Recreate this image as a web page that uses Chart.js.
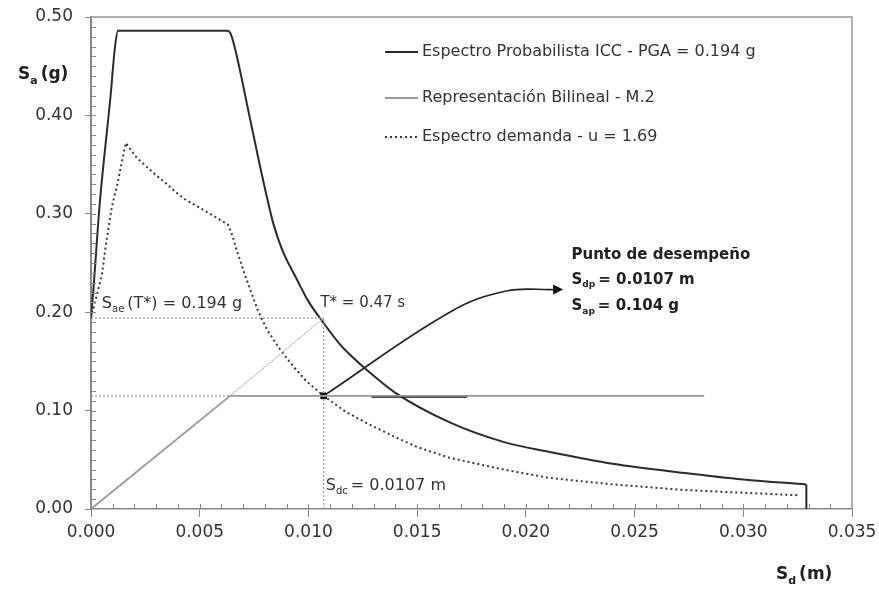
<!DOCTYPE html>
<html>
<head>
<meta charset="utf-8">
<script src="https://cdn.jsdelivr.net/npm/chart.js@4.4.0/dist/chart.umd.min.js"></script>
<style>
  html, body { margin: 0; padding: 0; background: #fff; }
  #wrap { width: 879px; height: 591px; }
</style>
</head>
<body>
<div id="wrap"><canvas id="chart" width="879" height="591"></canvas></div>
<script>
// Espectro Probabilista ICC
const iccSd = [0, 0.0001, 0.0004, 0.0009, 0.0011, 0.00124, 0.00625, 0.0064, 0.0066, 0.0073, 0.0077, 0.0081, 0.0084, 0.0088, 0.0095, 0.0100, 0.0106, 0.0115, 0.0120, 0.0127, 0.0140, 0.0165, 0.0190, 0.0211, 0.0240, 0.0273, 0.0300, 0.0329, 0.0329];
const iccSa = [0.194, 0.22, 0.31, 0.42, 0.469, 0.486, 0.486, 0.484, 0.470, 0.398, 0.356, 0.316, 0.289, 0.263, 0.232, 0.211, 0.192, 0.166, 0.155, 0.141, 0.118, 0.088, 0.068, 0.058, 0.046, 0.0366, 0.030, 0.025, 0];

// Espectro demanda
const demSd = [0, 0.0005, 0.0007, 0.00096, 0.0012, 0.0016, 0.0021, 0.0025, 0.0030, 0.0034, 0.0039, 0.0043, 0.0050, 0.0057, 0.0063, 0.0065, 0.0067, 0.00716, 0.00767, 0.0081, 0.0087, 0.0093, 0.0099, 0.0107, 0.0117, 0.0127, 0.0140, 0.0150, 0.0165, 0.0190, 0.0211, 0.0240, 0.0273, 0.0300, 0.0325];
const demSa = [0.194, 0.238, 0.271, 0.307, 0.329, 0.372, 0.357, 0.349, 0.339, 0.332, 0.322, 0.315, 0.306, 0.297, 0.289, 0.278, 0.263, 0.233, 0.202, 0.182, 0.162, 0.145, 0.130, 0.115, 0.099, 0.087, 0.073, 0.063, 0.052, 0.040, 0.0315, 0.025, 0.0193, 0.0165, 0.014];

// Representacion bilineal
const bilSd = [0, 0.0064, 0.0282];
const bilSa = [0, 0.115, 0.115];

// Punto de desempeno
const perfSd = [0.0107];
const perfSa = [0.115];

// guides and extras
const periodSd = [0.0064, 0.0107];
const periodSa = [0.115, 0.194];
const guideTopSd = [0, 0.0107];
const guideTopSa = [0.194, 0.194];
const guideMidSd = [0, 0.0107];
const guideMidSa = [0.115, 0.115];
const guideVertSd = [0.0107, 0.0107];
const guideVertSa = [0, 0.194];
const darkSegSd = [0.0129, 0.0173];
const darkSegSa = [0.114, 0.114];
const arrowSd = [0.0107, 0.0165, 0.0191, 0.0213];
const arrowSa = [0.115, 0.200, 0.2215, 0.223];

const xTicks = [0, 0.005, 0.010, 0.015, 0.020, 0.025, 0.030, 0.035];
const yTicks = [0, 0.1, 0.2, 0.3, 0.4, 0.5];
const xMinorStep = 0.001;
const yMinorStep = 0.01;

const legendLabels = [
    'Espectro Probabilista ICC - PGA = 0.194 g',
    'Representación Bilineal - M.2',
    'Espectro demanda - u = 1.69'
];

const pts = (xs, ys) => xs.map((x, i) => ({ x: x, y: ys[i] }));

const lineSet = (xs, ys, color, width, dash) => ({
    data: pts(xs, ys),
    showLine: true,
    borderColor: color,
    borderWidth: width,
    borderDash: dash || [],
    pointRadius: 0,
    fill: false
});

const FONT = 'DejaVu Sans';

// text with a subscript after the first letter
function drawSub(ctx, x, y, main, sub, rest, size, bold) {
    const w = bold ? 'bold ' : '';
    ctx.textBaseline = 'middle';
    ctx.textAlign = 'left';
    ctx.font = w + size + 'px ' + FONT;
    ctx.fillText(main, x, y);
    x += ctx.measureText(main).width;
    ctx.font = w + Math.round(size * 0.62) + 'px ' + FONT;
    ctx.fillText(sub, x, y + size * 0.35);
    x += ctx.measureText(sub).width + 3;
    ctx.font = w + size + 'px ' + FONT;
    ctx.fillText(rest, x, y);
}

const decorPlugin = {
    id: 'decor',
    afterDraw(chart) {
        const ctx = chart.ctx;
        const a = chart.chartArea;
        const xs = chart.scales.x;
        const ys = chart.scales.y;
        ctx.save();

        // frame top and right
        ctx.strokeStyle = '#999';
        ctx.lineWidth = 1.5;
        ctx.beginPath();
        ctx.moveTo(a.left, a.top);
        ctx.lineTo(a.right, a.top);
        ctx.lineTo(a.right, a.bottom);
        ctx.stroke();

        // minor ticks
        ctx.strokeStyle = '#888';
        ctx.lineWidth = 1;
        ctx.beginPath();
        for (let i = 1; i * yMinorStep < ys.max - 1e-9; i++) {
            const py = Math.round(ys.getPixelForValue(i * yMinorStep)) + 0.5;
            ctx.moveTo(a.left, py);
            ctx.lineTo(a.left + 5, py);
        }
        for (let i = 1; i * xMinorStep < xs.max - 1e-9; i++) {
            const px = Math.round(xs.getPixelForValue(i * xMinorStep)) + 0.5;
            ctx.moveTo(px, a.bottom);
            ctx.lineTo(px, a.bottom - 5);
        }
        ctx.stroke();

        // arrow head
        const n = arrowSd.length - 1;
        const hx = xs.getPixelForValue(arrowSd[n]);
        const hy = ys.getPixelForValue(arrowSa[n]);
        ctx.fillStyle = '#111';
        ctx.beginPath();
        ctx.moveTo(hx + 9, hy);
        ctx.lineTo(hx - 1, hy - 5);
        ctx.lineTo(hx - 1, hy + 5);
        ctx.closePath();
        ctx.fill();

        // legend
        const lx = 385, lw = 33;
        const rows = [52, 98, 137];
        const styles = [
            { c: '#2b2b2b', w: 2, d: [] },
            { c: '#9a9a9a', w: 2, d: [] },
            { c: '#3a3a3a', w: 2, d: [2, 3] }
        ];
        legendLabels.forEach((t, i) => {
            ctx.strokeStyle = styles[i].c;
            ctx.lineWidth = styles[i].w;
            ctx.setLineDash(styles[i].d);
            ctx.beginPath();
            ctx.moveTo(lx, rows[i]);
            ctx.lineTo(lx + lw, rows[i]);
            ctx.stroke();
            ctx.setLineDash([]);
            ctx.fillStyle = '#333';
            ctx.font = '16px ' + FONT;
            ctx.textAlign = 'left';
            ctx.textBaseline = 'middle';
            ctx.fillText(t, lx + lw + 4, rows[i]);
        });

        // axis titles
        ctx.fillStyle = '#222';
        drawSub(ctx, 18, 75, 'S', 'a', '(g)', 17, true);
        drawSub(ctx, 776, 575, 'S', 'd', '(m)', 17, true);

        // annotations
        const X = v => xs.getPixelForValue(v);
        const Y = v => ys.getPixelForValue(v);
        ctx.fillStyle = '#333';
        drawSub(ctx, X(0.0005), Y(0.209), 'S', 'ae', '(T*) = 0.194 g', 16, false);
        ctx.font = '15px ' + FONT;
        ctx.textAlign = 'left';
        ctx.textBaseline = 'middle';
        ctx.fillText('T* = 0.47 s', X(0.01055), Y(0.209));
        drawSub(ctx, X(0.0108), Y(0.024), 'S', 'dc', '= 0.0107 m', 16, false);

        ctx.fillStyle = '#222';
        ctx.font = 'bold 15px ' + FONT;
        ctx.fillText('Punto de desempeño', X(0.0221), Y(0.258));
        drawSub(ctx, X(0.0221), Y(0.233), 'S', 'dp', '= 0.0107 m', 15, true);
        drawSub(ctx, X(0.0221), Y(0.206), 'S', 'ap', '= 0.104 g', 15, true);

        ctx.restore();
    }
};

const ctx = document.getElementById('chart').getContext('2d');

// ICC curve smoothed; its vertical end drop drawn as its own straight piece
const iccCurve = Object.assign(
    lineSet(iccSd.slice(0, -1), iccSa.slice(0, -1), '#2b2b2b', 2),
    { cubicInterpolationMode: 'monotone' }
);
const iccDrop = lineSet(iccSd.slice(-2), iccSa.slice(-2), '#2b2b2b', 2);

new Chart(ctx, {
    type: 'scatter',
    data: {
        datasets: [
            lineSet(guideTopSd, guideTopSa, '#9a9a9a', 1.2, [2, 2]),
            lineSet(guideMidSd, guideMidSa, '#9a9a9a', 1.2, [2, 2]),
            lineSet(guideVertSd, guideVertSa, '#9a9a9a', 1.2, [2, 2]),
            lineSet(periodSd, periodSa, '#b8b8b8', 1.2, [2, 1]),
            lineSet(bilSd, bilSa, '#9a9a9a', 1.8),
            lineSet(darkSegSd, darkSegSa, '#111', 2),
            iccCurve,
            iccDrop,
            lineSet(demSd, demSa, '#3a3a3a', 2, [2, 3]),
            Object.assign(lineSet(arrowSd, arrowSa, '#222', 1.6), { tension: 0.4 }),
            {
                data: pts(perfSd, perfSa),
                showLine: false,
                pointStyle: 'rect',
                pointRadius: 4,
                backgroundColor: '#000',
                borderColor: '#000'
            }
        ]
    },
    options: {
        responsive: false,
        animation: false,
        devicePixelRatio: 1,
        layout: { padding: { left: 0, top: 17, right: 27, bottom: 0 } },
        plugins: {
            legend: { display: false },
            tooltip: { enabled: false }
        },
        scales: {
            x: {
                type: 'linear',
                min: 0,
                max: 0.035,
                afterBuildTicks: s => { s.ticks = xTicks.map(v => ({ value: v })); },
                afterFit: s => { s.height = 82; s.paddingLeft = 0; s.paddingRight = 0; },
                ticks: {
                    callback: v => v.toFixed(3),
                    color: '#333',
                    font: { family: FONT, size: 17 },
                    padding: 5,
                    maxRotation: 0
                },
                grid: { drawOnChartArea: false, drawTicks: true, tickLength: 8, color: '#888' },
                border: { display: true, color: '#888', width: 1.5 }
            },
            y: {
                type: 'linear',
                min: 0,
                max: 0.5,
                afterBuildTicks: s => { s.ticks = yTicks.map(v => ({ value: v })); },
                afterFit: s => { s.width = 91; s.paddingTop = 0; s.paddingBottom = 0; },
                ticks: {
                    callback: v => v.toFixed(2),
                    color: '#333',
                    font: { family: FONT, size: 17 },
                    padding: 12
                },
                grid: { drawOnChartArea: false, drawTicks: true, tickLength: 6, color: '#888' },
                border: { display: true, color: '#888', width: 2 }
            }
        }
    },
    plugins: [decorPlugin]
});
</script>
</body>
</html>
